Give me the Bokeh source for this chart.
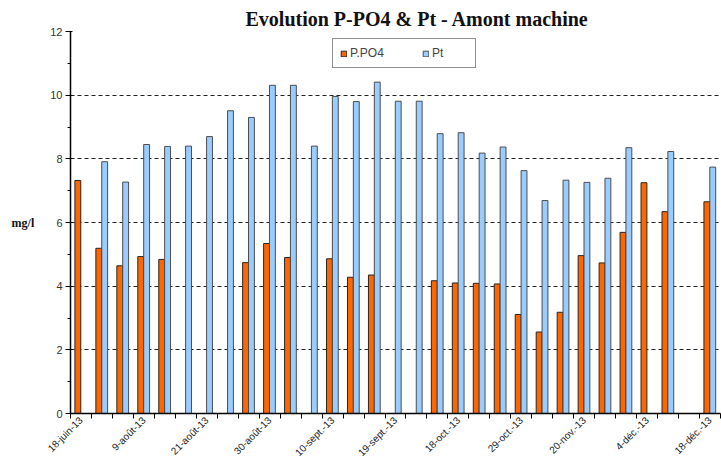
import math
from bokeh.plotting import figure
from bokeh.models import (ColumnDataSource, FixedTicker, Legend, LegendItem,
                          Range1d)
from bokeh.embed import file_html
from bokeh.resources import INLINE

# ---- data -------------------------------------------------------------
# 31 sampling dates (only every third one is labelled on the axis)
n_dates = 31
p_po4 = [7.32, 5.19, 4.64, 4.93, 4.84, None, None, None, 4.74, 5.34, 4.90,
         None, 4.86, 4.28, 4.35, None, None, 4.17, 4.10, 4.09, 4.07, 3.11,
         2.56, 3.18, 4.96, 4.73, 5.69, 7.25, 6.34, None, 6.65]
pt = [None, 7.91, 7.27, 8.45, 8.39, 8.40, 8.70, 9.51, 9.30, 10.31, 10.31,
      8.40, 9.96, 9.80, 10.41, 9.81, 9.81, 8.79, 8.82, 8.18, 8.37, 7.63,
      6.69, 7.33, 7.26, 7.39, 8.35, None, 8.23, None, 7.74]
tick_labels = ["18-juin-13", "9-août-13", "21-août-13", "30-août-13",
               "10-sept.-13", "19-sept.-13", "18-oct.-13", "29-oct.-13",
               "20-nov.-13", "4-déc.-13", "18-déc.-13"]
label_every = 3
y_ticks = [0, 2, 4, 6, 8, 10, 12]

# ---- sources ----------------------------------------------------------
idx = list(range(1, n_dates + 1))
src_o = ColumnDataSource(dict(
    x=[i - 0.15 for i, v in zip(idx, p_po4) if v is not None],
    top=[v for v in p_po4 if v is not None]))
src_b = ColumnDataSource(dict(
    x=[i + 0.13 for i, v in zip(idx, pt) if v is not None],
    top=[v for v in pt if v is not None]))

p = figure(width=721, height=465,
           x_range=Range1d(0.5, n_dates + 0.5), y_range=Range1d(0, 12),
           output_backend="svg", toolbar_location=None,
           min_border_left=70, min_border_right=1, min_border_top=31,
           min_border_bottom=0)
p.outline_line_color = None
p.background_fill_color = "white"
p.border_fill_color = "white"

p.title.text = "Evolution P-PO4 & Pt - Amont machine"
p.title.text_font = "Liberation Serif"
p.title.text_font_style = "bold"
p.title.text_font_size = "20px"
p.title.text_color = "#111111"
p.title.align = "left"
p.title.offset = 175
p.title.standoff = 3

r1 = p.vbar(x="x", top="top", width=0.28, source=src_o,
            fill_color="#FF6600", line_color="#262626", line_width=1)
r2 = p.vbar(x="x", top="top", width=0.28, source=src_b,
            fill_color="#99CCFF", line_color="#4d4d4d", line_width=1)

# y axis
ya = p.yaxis[0]
ya.ticker = FixedTicker(ticks=y_ticks,
                        minor_ticks=[t + 1 for t in y_ticks[:-1]])
ya.axis_line_color = "black"
ya.axis_line_width = 1.5
ya.major_tick_line_color = "black"
ya.minor_tick_line_color = "black"
ya.major_tick_out = 5
ya.major_tick_in = 2
ya.minor_tick_out = 3
ya.minor_tick_in = 0
ya.major_label_text_font = "Liberation Sans"
ya.major_label_text_font_size = "11px"
ya.major_label_text_color = "#333333"
ya.major_label_standoff = 3
ya.axis_label = "mg/l"
ya.axis_label_text_font = "Liberation Serif"
ya.axis_label_text_font_style = "bold"
ya.axis_label_text_font_size = "12px"
ya.axis_label_text_color = "#111111"
ya.axis_label_standoff = 13
try:
    ya.axis_label_orientation = "horizontal"
except Exception:
    pass

# x axis
xa = p.xaxis[0]
label_pos = idx[::label_every]
xa.ticker = FixedTicker(ticks=label_pos,
                        minor_ticks=[i - 0.5 for i in idx] + [n_dates + 0.5])
xa.major_label_overrides = {k: lab for k, lab in zip(label_pos, tick_labels)}
xa.major_label_orientation = math.pi / 4
xa.axis_line_color = "black"
xa.axis_line_width = 1.5
xa.major_tick_out = 0
xa.major_tick_in = 0
xa.minor_tick_out = 5
xa.minor_tick_in = 0
xa.minor_tick_line_color = "black"
xa.major_label_text_font = "Liberation Sans"
xa.major_label_text_font_size = "10px"
xa.major_label_text_color = "#222222"
xa.major_label_standoff = 0

p.xgrid.visible = False
p.ygrid.grid_line_color = "#222222"
p.ygrid.grid_line_dash = "4 3"
p.ygrid.grid_line_width = 1

legend = Legend(items=[LegendItem(label="P.PO4", renderers=[r1]),
                       LegendItem(label="Pt", renderers=[r2])],
                orientation="horizontal", location=(262, 345),
                padding=7, spacing=36, margin=0,
                label_width=36, label_height=11, label_standoff=3,
                glyph_width=7, glyph_height=7,
                label_text_font="Liberation Sans",
                label_text_font_size="12px",
                border_line_color="#222222", border_line_width=1.5,
                background_fill_color="white", background_fill_alpha=1)
p.add_layout(legend)

open("out.html", "w").write(file_html(p, INLINE))
